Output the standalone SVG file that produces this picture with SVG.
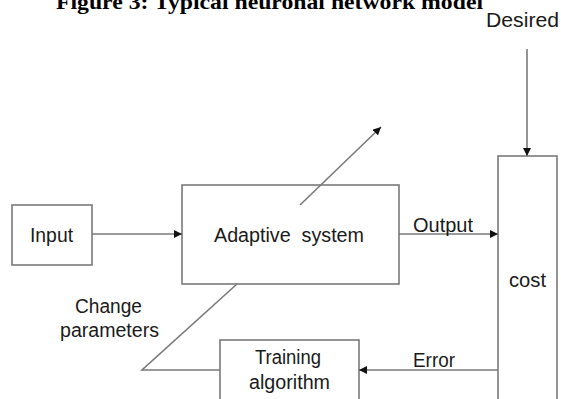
<svg xmlns="http://www.w3.org/2000/svg" width="561" height="399" viewBox="0 0 561 399">
<defs>
<marker id="ah" viewBox="0 0 10 10" refX="10" refY="5" markerWidth="8" markerHeight="8" markerUnits="userSpaceOnUse" orient="auto">
<path d="M0,0 L10,5 L0,10 Z" fill="#111"/>
</marker>
<style>
.box{fill:#fff;stroke:#7a7a7a;stroke-width:1.6}
.ln{fill:none;stroke:#7a7a7a;stroke-width:1.6}
.t{font-family:"Liberation Sans",Arial,sans-serif;font-size:20px;fill:#1a1a1a}
.title{font-family:"Liberation Serif","Times New Roman",serif;font-size:22px;font-weight:bold;fill:#000}
</style>
</defs>
<rect width="561" height="399" fill="#fff"/>
<text class="title" x="56" y="9" textLength="427" lengthAdjust="spacingAndGlyphs">Figure 3: Typical neuronal network model</text>
<g id="input">
<rect class="box" x="12" y="205" width="80" height="60"/>
<text class="t" x="30" y="242" textLength="43" lengthAdjust="spacingAndGlyphs">Input</text>
</g>
<g id="adaptive">
<rect class="box" x="182" y="185" width="217" height="99"/>
<text class="t" x="214" y="242" textLength="150" lengthAdjust="spacingAndGlyphs" xml:space="preserve">Adaptive  system</text>
</g>
<g id="cost">
<rect class="box" x="498" y="156" width="59" height="260"/>
<text class="t" x="509" y="287" textLength="37" lengthAdjust="spacingAndGlyphs">cost</text>
</g>
<g id="training">
<rect class="box" x="220" y="340" width="139" height="80"/>
<text class="t" x="255" y="364" textLength="66" lengthAdjust="spacingAndGlyphs">Training</text>
<text class="t" x="249" y="389" textLength="81" lengthAdjust="spacingAndGlyphs">algorithm</text>
</g>
<g id="connectors">
<line class="ln" x1="92" y1="234" x2="182" y2="234" marker-end="url(#ah)"/>
<line class="ln" x1="399" y1="234" x2="498" y2="234" marker-end="url(#ah)"/>
<line class="ln" x1="527" y1="49" x2="527" y2="156" marker-end="url(#ah)"/>
<line class="ln" x1="498" y1="370" x2="359" y2="370" marker-end="url(#ah)"/>
<line class="ln" x1="300" y1="205" x2="381" y2="127" marker-end="url(#ah)"/>
<polyline class="ln" points="237,284 142,370 220,370"/>
<text class="t" x="413" y="232" textLength="60" lengthAdjust="spacingAndGlyphs">Output</text>
<text class="t" x="413" y="367" textLength="42" lengthAdjust="spacingAndGlyphs">Error</text>
<text class="t" x="486" y="27" textLength="73" lengthAdjust="spacingAndGlyphs">Desired</text>
<text class="t" x="75" y="313" textLength="67" lengthAdjust="spacingAndGlyphs">Change</text>
<text class="t" x="60" y="337" textLength="99" lengthAdjust="spacingAndGlyphs">parameters</text>
</g>
</svg>
